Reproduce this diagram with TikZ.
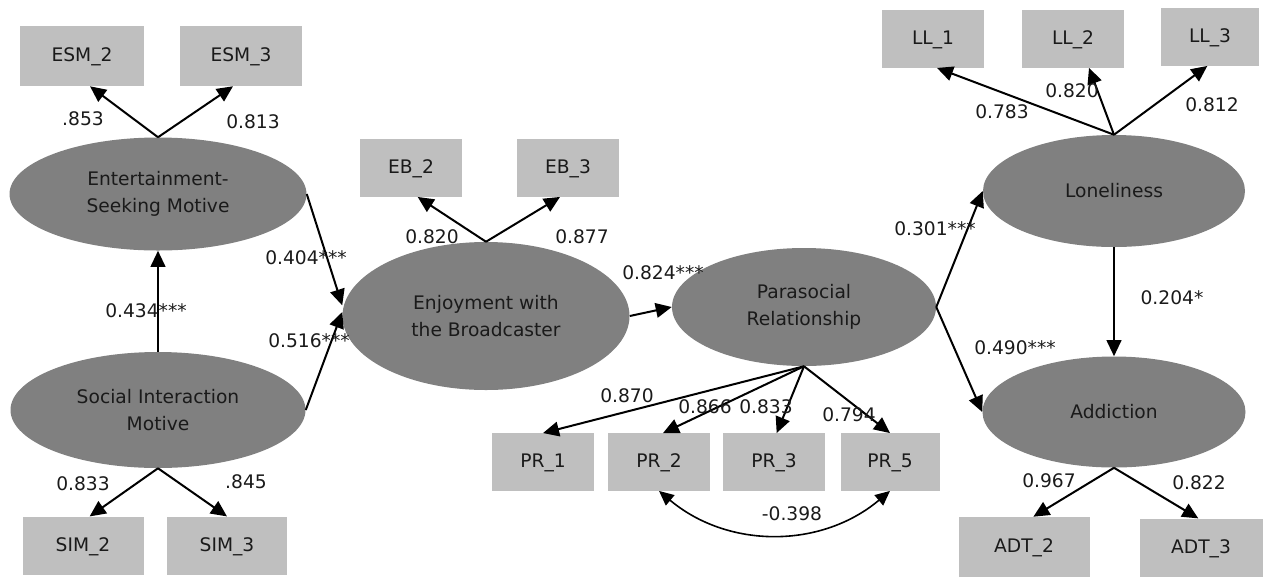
\documentclass[tikz,border=0pt]{standalone}
\usepackage{fontspec}
\setmainfont{DejaVu Sans}
\usepackage{xcolor}
\usetikzlibrary{shapes.geometric,arrows.meta}
\definecolor{latentgray}{HTML}{808080}
\definecolor{itemgray}{HTML}{BFBFBF}
\definecolor{textdark}{HTML}{1A1A1A}

\begin{document}
\begin{tikzpicture}[x=0.75pt, y=-0.75pt,
    latent/.style={ellipse, fill=latentgray, text=textdark, align=center, inner sep=0pt,
        font=\fontsize{14}{20}\selectfont},
    indicator/.style={fill=itemgray, text=textdark, minimum width=76.5pt, minimum height=43pt,
        inner sep=0pt, text height=10pt, text depth=1.5pt, font=\fontsize{14}{16}\selectfont},
    coef/.style={text=textdark, inner sep=1pt, font=\fontsize{14}{16}\selectfont},
    regline/.style={-{Triangle[length=12pt,width=11pt]}, line width=1.5pt},
    covline/.style={{Triangle[length=11pt,width=10pt]}-{Triangle[length=11pt,width=10pt]}, line width=1.2pt}]
    \useasboundingbox (0,0) rectangle (1264,576);

    % latent constructs
    \node[latent, minimum width=222.75pt, minimum height=84.75pt] (esm) at (158,194) {Entertainment-\\Seeking Motive};
    \node[latent, minimum width=221.25pt, minimum height=87pt] (sim) at (158,410) {Social Interaction\\Motive};
    \node[latent, minimum width=215.25pt, minimum height=111pt] (eb) at (486,316) {Enjoyment with\\the Broadcaster};
    \node[latent, minimum width=198pt, minimum height=88.5pt] (pr) at (804,307) {Parasocial\\Relationship};
    \node[latent, minimum width=196.5pt, minimum height=84pt] (ll) at (1114,191) {Loneliness};
    \node[latent, minimum width=197.25pt, minimum height=83.25pt] (adt) at (1114,412) {Addiction};

    % indicators
    \node[indicator, minimum width=93pt, minimum height=45pt] (esm2) at (82,56) {ESM\_2};
    \node[indicator, minimum width=91.5pt, minimum height=45pt] (esm3) at (241,56) {ESM\_3};
    \node[indicator, minimum width=90.75pt, minimum height=44pt] (sim2) at (83,546) {SIM\_2};
    \node[indicator, minimum width=90pt, minimum height=44pt] (sim3) at (227,546) {SIM\_3};
    \node[indicator] (eb2) at (411,168) {EB\_2};
    \node[indicator] (eb3) at (568,168) {EB\_3};
    \node[indicator] (pr1) at (543,462) {PR\_1};
    \node[indicator] (pr2) at (659,462) {PR\_2};
    \node[indicator] (pr3) at (774,462) {PR\_3};
    \node[indicator, minimum width=74.25pt] (pr5) at (890,462) {PR\_5};
    \node[indicator] (ll1) at (933,39) {LL\_1};
    \node[indicator] (ll2) at (1073,39) {LL\_2};
    \node[indicator, minimum width=73.5pt] (ll3) at (1210,37) {LL\_3};
    \node[indicator, minimum width=98.25pt, minimum height=45pt] (adt2) at (1024,547) {ADT\_2};
    \node[indicator, minimum width=92.25pt, minimum height=44pt] (adt3) at (1201,548) {ADT\_3};

    % loadings
    \draw[regline] (esm.north) -- ([xshift=6pt]esm2.south);
    \draw[regline] (esm.north) -- ([xshift=-6pt]esm3.south);
    \draw[regline] (sim.south) -- ([xshift=5pt]sim2.north);
    \draw[regline] (sim.south) -- (sim3.north);
    \draw[regline] (eb.north) -- ([xshift=5pt]eb2.south);
    \draw[regline] (eb.north) -- ([xshift=-6pt]eb3.south);
    \draw[regline] (pr.south) -- (pr1.north);
    \draw[regline] (pr.south) -- ([xshift=3pt]pr2.north);
    \draw[regline] (pr.south) -- ([xshift=2pt]pr3.north);
    \draw[regline] (pr.south) -- (pr5.north);
    \draw[regline] (ll.north) -- ([xshift=3pt]ll1.south);
    \draw[regline] (ll.north) -- ([xshift=12pt]ll2.south);
    \draw[regline] (ll.north) -- ([xshift=-2pt]ll3.south);
    \draw[regline] (adt.south) -- ([xshift=7pt]adt2.north);
    \draw[regline] (adt.south) -- ([xshift=-2pt]adt3.north);

    % structural paths
    \draw[regline] (sim.north) -- (esm.south);
    \draw[regline] (esm.east) -- ([yshift=8pt]eb.west);
    \draw[regline] (sim.east) -- ([yshift=3pt]eb.west);
    \draw[regline] (eb.east) -- (pr.west);
    \draw[regline] (pr.east) -- (ll.west);
    \draw[regline] (pr.east) -- (adt.west);
    \draw[regline] (ll.south) -- (adt.north);
    \draw[covline] (pr2.south) to[out=-40, in=-140] (pr5.south);

    % coefficients
    \node[coef] (c-esm2) at (83,119) {.853};
    \node[coef] (c-esm3) at (253,122) {0.813};
    \node[coef] (c-sim2) at (83,484) {0.833};
    \node[coef] (c-sim3) at (246,482) {.845};
    \node[coef] (c-sim-esm) at (146,311) {0.434***};
    \node[coef] (c-esm-eb) at (306,258) {0.404***};
    \node[coef] (c-sim-eb) at (309,341) {0.516***};
    \node[coef] (c-eb2) at (432,237) {0.820};
    \node[coef] (c-eb3) at (582,237) {0.877};
    \node[coef] (c-eb-pr) at (663,273) {0.824***};
    \node[coef] (c-pr1) at (627,396) {0.870};
    \node[coef] (c-pr2) at (705,407) {0.866};
    \node[coef] (c-pr3) at (766,407) {0.833};
    \node[coef] (c-pr5) at (849,415) {0.794};
    \node[coef] (c-cov) at (792,514) {-0.398};
    \node[coef] (c-ll1) at (1002,112) {0.783};
    \node[coef] (c-ll2) at (1072,91) {0.820};
    \node[coef] (c-ll3) at (1212,105) {0.812};
    \node[coef] (c-pr-ll) at (935,229) {0.301***};
    \node[coef] (c-ll-adt) at (1172,298) {0.204*};
    \node[coef] (c-pr-adt) at (1015,348) {0.490***};
    \node[coef] (c-adt2) at (1049,481) {0.967};
    \node[coef] (c-adt3) at (1199,483) {0.822};
\end{tikzpicture}
\end{document}
